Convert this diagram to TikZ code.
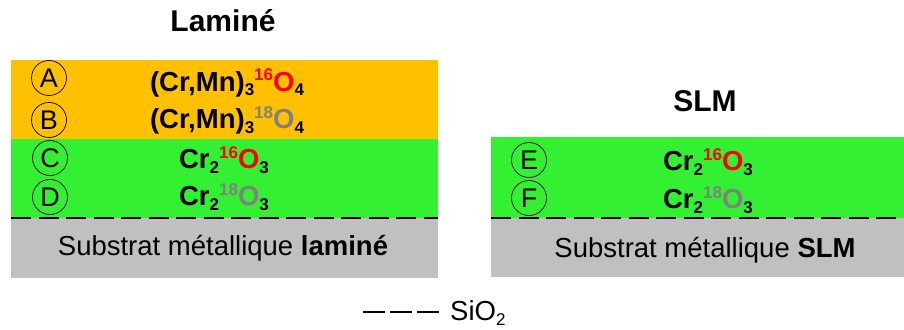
\documentclass[tikz,border=0pt]{standalone}
\usepackage{fontspec}
\setmainfont{Liberation Sans}
\definecolor{orangeL}{HTML}{FFC000}
\definecolor{greenL}{HTML}{33F033}
\definecolor{greyL}{HTML}{C0C0C0}
\definecolor{isored}{HTML}{FF0000}
\definecolor{isogrey}{HTML}{808080}
\newcommand{\lowsub}[1]{\raisebox{-5pt}{\fontsize{17}{17}\selectfont #1}}
\newcommand{\highsup}[1]{\raisebox{10pt}{\fontsize{17}{17}\selectfont #1}}
\newcommand{\isoO}[3]{{\color{#1}\highsup{#2}O}\lowsub{#3}}
\begin{document}
\begin{tikzpicture}[x=1pt,y=-1pt,
  formula/.style={anchor=base,font=\fontsize{27.5}{30}\selectfont\bfseries,inner sep=0pt},
  plain/.style={anchor=base,font=\fontsize{27.5}{30}\selectfont,inner sep=0pt},
  title/.style={anchor=base,font=\fontsize{30}{32}\selectfont\bfseries,inner sep=0pt},
  circ/.style={circle,draw,line width=0.7pt,minimum size=35pt,inner sep=0pt,font=\fontsize{27}{27}\selectfont},
  iface/.style={line width=2.5pt,dash pattern=on 20pt off 7.5pt},
  legdash/.style={line width=2pt,dash pattern=on 22pt off 5pt}]
\useasboundingbox (0,0) rectangle (904,329);
% left stack
\fill[orangeL] (11,60) rectangle (438,139);
\fill[greenL] (11,139) rectangle (438,218);
\fill[greyL] (11,218) rectangle (438,278);
\draw[iface] (11,218) -- (438,218);
% right stack
\fill[greenL] (491,137) rectangle (904,218);
\fill[greyL] (491,218) rectangle (904,277);
\draw[iface] (491,218) -- (904,218);
% titles
\node[title] (tL) at (223,32) {Laminé};
\node[title] (tS) at (705,111) {SLM};
% circles
\node[circ] (A) at (49,78) {A};
\node[circ] (B) at (49,120) {B};
\node[circ] (C) at (50,158) {C};
\node[circ] (D) at (50,197) {D};
\node[circ] (E) at (529,160) {E};
\node[circ] (F) at (529,198) {F};
% formulas
\node[formula] (fA) at (227,91) {(Cr,Mn)\lowsub{3}\isoO{isored}{16}{4}};
\node[formula] (fB) at (227,128) {(Cr,Mn)\lowsub{3}\isoO{isogrey}{18}{4}};
\node[formula] (fC) at (224,168) {Cr\lowsub{2}\isoO{isored}{16}{3}};
\node[formula] (fD) at (224,205) {Cr\lowsub{2}\isoO{isogrey}{18}{3}};
\node[formula] (fE) at (708,170) {Cr\lowsub{2}\isoO{isored}{16}{3}};
\node[formula] (fF) at (708,208) {Cr\lowsub{2}\isoO{isogrey}{18}{3}};
% substrates
\node[plain] (sL) at (223,255) {Substrat métallique \textbf{laminé}};
\node[plain] (sS) at (705,257) {Substrat métallique \textbf{SLM}};
% legend
\node[plain,anchor=base west] (sio) at (450,320) {SiO\lowsub{2}};
\coordinate (l0) at (363,312);
\coordinate (l1) at (440,312);
\draw[legdash] (l0) -- (l1);
\end{tikzpicture}
\end{document}
